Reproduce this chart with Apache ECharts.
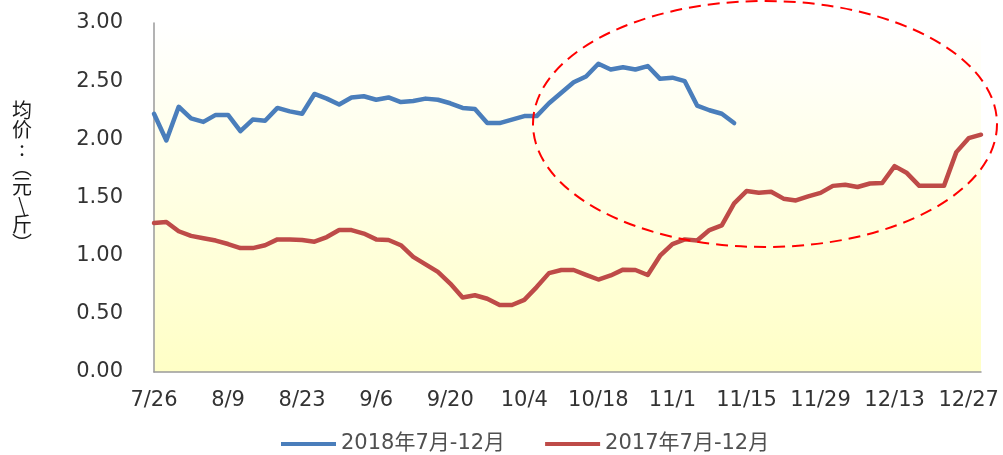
<!DOCTYPE html>
<html><head><meta charset="utf-8">
<script src="https://cdn.jsdelivr.net/npm/echarts@6/dist/echarts.min.js"></script>
<style>html,body{margin:0;padding:0;background:#fff}#c{width:1003px;height:455px}</style>
</head><body><div id="c"></div>
<script>
const tickLabels = ['7/26','8/9','8/23','9/6','9/20','10/4','10/18','11/1','11/15','11/29','12/13','12/27'];
const seriesNames = ['2018年7月-12月', '2017年7月-12月'];
const values2018 = [
  2.22,1.99,2.28,2.18,2.15,2.21,2.21,2.07,2.17,2.16,
  2.27,2.24,2.22,2.39,2.35,2.30,2.36,2.37,2.34,2.36,
  2.32,2.33,2.35,2.34,2.31,2.27,2.26,2.14,2.14,2.17,
  2.20,2.20,2.31,2.40,2.49,2.54,2.65,2.60,2.62,2.60,
  2.63,2.52,2.53,2.50,2.29,2.25,2.22,2.14
];
const values2017 = [
  1.28,1.29,1.21,1.17,1.15,1.13,1.10,1.065,1.065,1.09,
  1.14,1.14,1.135,1.12,1.16,1.22,1.22,1.19,1.14,1.135,
  1.09,0.99,0.925,0.86,0.76,0.64,0.66,0.63,0.576,0.576,
  0.62,0.73,0.85,0.877,0.877,0.835,0.795,0.83,0.88,0.877,
  0.834,1.00,1.10,1.14,1.13,1.22,1.26,1.45,1.555,1.54,
  1.55,1.49,1.475,1.51,1.54,1.60,1.61,1.59,1.62,1.625,
  1.77,1.71,1.60,1.60,1.60,1.89,2.01,2.04
];
const yAxisTitle = ['均','价',':','︵','元','\\','斤','︶'];
const labelStep = 6;
const categories = values2017.map((_, i) => 'p' + i);

const chart = echarts.init(document.getElementById('c'), null, {renderer: 'canvas'});
const fontLat = '"DejaVu Sans", "Noto Sans CJK SC", sans-serif';
chart.setOption({
  animation: false,
  backgroundColor: '#ffffff',
  grid: {
    left: 154, right: 22, top: 23, bottom: 83,
    show: true, borderWidth: 0,
    backgroundColor: {type: 'linear', x: 0, y: 0, x2: 0, y2: 1,
      colorStops: [{offset: 0, color: '#ffffff'}, {offset: 1, color: '#FFFFC6'}]}
  },
  legend: {
    left: 281, top: 433, padding: 0,
    itemWidth: 55, itemHeight: 4, icon: 'rect', itemGap: 40,
    textStyle: {fontFamily: fontLat, fontSize: 21, lineHeight: 22, color: '#505050'},
    data: seriesNames
  },
  xAxis: {
    type: 'category', boundaryGap: false, data: categories,
    axisLine: {lineStyle: {color: '#9A9A9A', width: 1.5}},
    axisTick: {show: false},
    splitLine: {show: false},
    axisLabel: {
      interval: labelStep - 1, margin: 18,
      fontFamily: fontLat, fontSize: 21, color: '#333333',
      formatter: (v, i) => tickLabels[Math.round(i / labelStep)] || ''
    }
  },
  yAxis: {
    type: 'value', min: 0, max: 3, interval: 0.5,
    axisLine: {show: true, lineStyle: {color: '#9A9A9A', width: 1.5}},
    axisTick: {show: false},
    splitLine: {show: false},
    axisLabel: {margin: 31, fontFamily: fontLat, fontSize: 21, color: '#333333',
      formatter: v => v.toFixed(2)}
  },
  series: [
    {name: seriesNames[0], type: 'line', data: values2018, symbol: 'none',
     color: '#4A7EBB', lineStyle: {width: 4.5, color: '#4A7EBB', join: 'round', cap: 'round'}, z: 3},
    {name: seriesNames[1], type: 'line', data: values2017, symbol: 'none',
     color: '#BE4B48', lineStyle: {width: 4.5, color: '#BE4B48', join: 'round', cap: 'round'}, z: 2}
  ],
  graphic: [
    {type: 'ellipse', z: 100, silent: true,
     shape: {cx: 765, cy: 124, rx: 232, ry: 123},
     style: {fill: 'none', stroke: '#FF0000', lineWidth: 2, lineDash: [12, 7]}},
    {type: 'text', z: 100, x: 22, y: 101,
     style: {text: yAxisTitle.join('\n'), font: '20px "Noto Sans CJK SC", "DejaVu Sans"', lineHeight: 19,
       fill: '#1a1a1a', align: 'center', verticalAlign: 'top'}}
  ]
});
</script>
</body></html>
